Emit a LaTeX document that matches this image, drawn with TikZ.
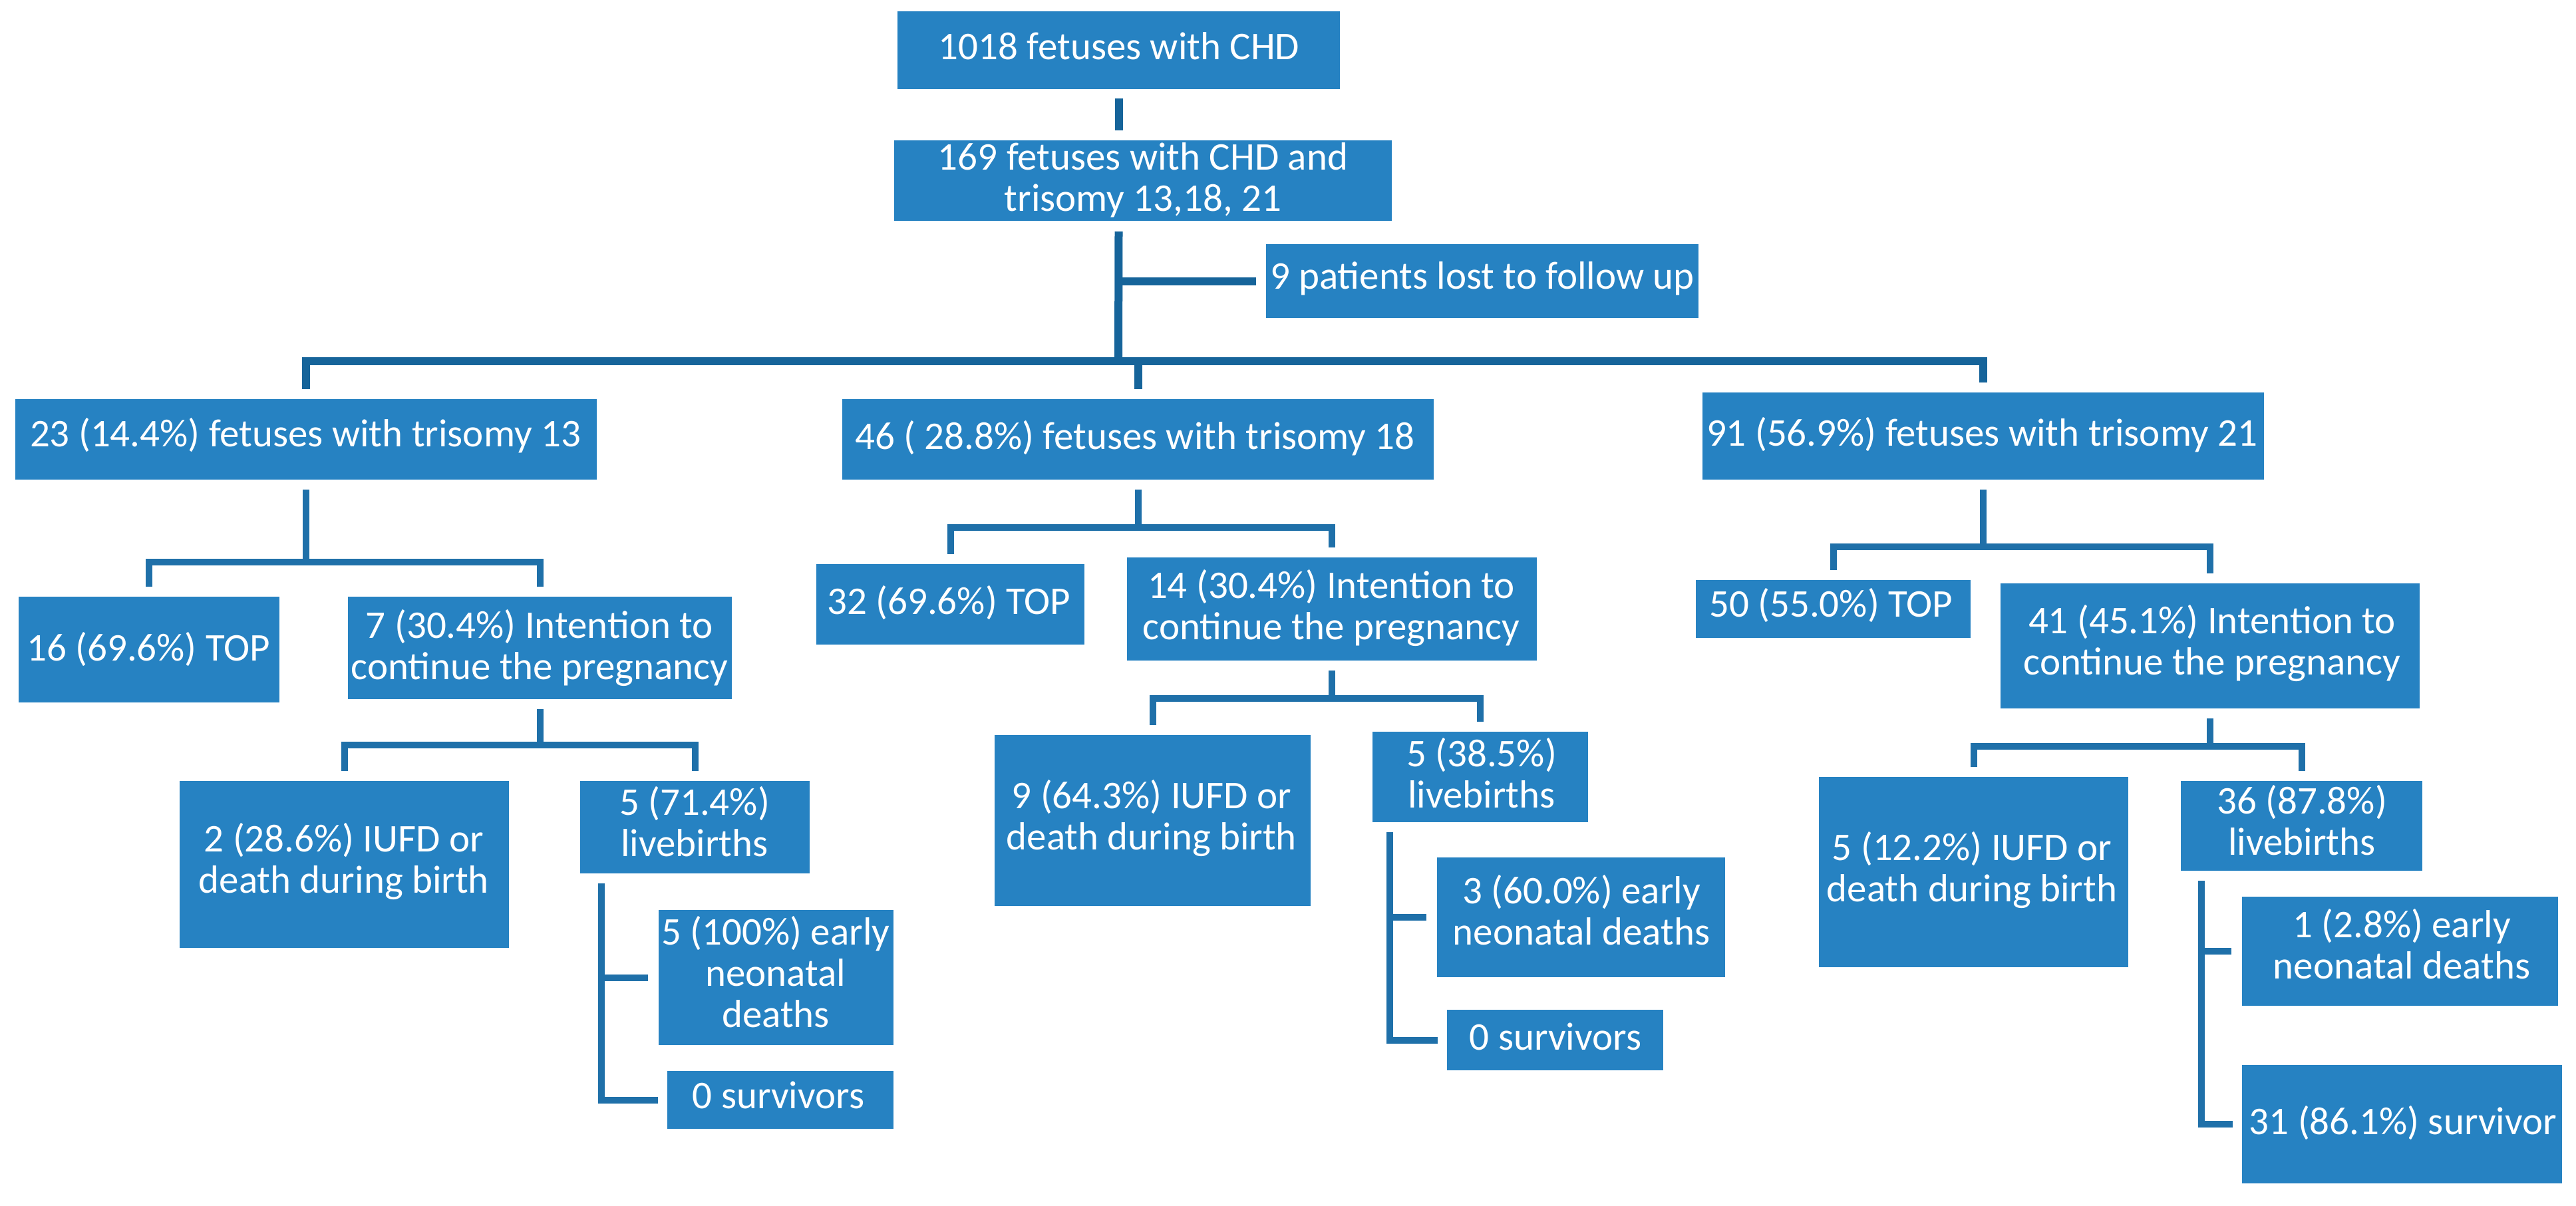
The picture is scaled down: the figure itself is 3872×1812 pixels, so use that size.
\documentclass[tikz,border=0pt]{standalone}
\usepackage{fontspec}
\setmainfont{Carlito}
\usetikzlibrary{fit}
\definecolor{boxblue}{RGB}{38,130,194}
\definecolor{lineA}{RGB}{22,100,154}
\definecolor{lineB}{RGB}{31,112,169}
\newcommand\bx[5]{\node[box, fit={(#2,#3) (#4,#5)}] (#1) {};}
% #3 = baseline of the last text line
\newcommand\tx[4]{\node[txt] (#1) at (#2,#3) {#4};}
\newcommand\forktwo[5]{%
  \draw[#5] ([yshift=-7.5pt]#1.south) -- (#1.south |- 0,#4);
  \draw[#5] ([yshift=7.5pt]#2.north) -- (#2.north |- 0,#4) -- (#3.north |- 0,#4) -- ([yshift=7.5pt]#3.north);}
\newcommand\rake[4]{%
  \draw[c2] ([xshift=#4,yshift=-7.5pt]#1.south west) -- ([xshift=#4]#1.south west |- #3.west) -- ([xshift=-7pt]#3.west);
  \draw[c2] ([xshift=#4]#1.south west |- #2.west) -- ([xshift=-8pt]#2.west);}
\begin{document}
\begin{tikzpicture}[x=0.5pt,y=-0.5pt,
  box/.style={fill=boxblue, inner sep=0pt, outer sep=0pt},
  txt/.style={text=white, font=\fontsize{29.5pt}{31pt}\selectfont, align=center, anchor=base, inner sep=0pt},
  c1/.style={draw=lineA, line width=6pt},
  c2/.style={draw=lineB, line width=5pt},
]
\fill[white] (0,0) rectangle (3872,1812);
\useasboundingbox (0,0) rectangle (3872,1812);

% boxes
\bx{b1}{1349}{17}{2014}{134}
\bx{b2}{1344}{211}{2092}{332}
\bx{lost}{1903}{367}{2553}{478}
\bx{t13}{23}{600}{897}{721}
\bx{t18}{1266}{600}{2155}{721}
\bx{t21}{2559}{590}{3403}{721}
\bx{top16}{28}{897}{420}{1056}
\bx{int7}{523}{897}{1100}{1051}
\bx{top32}{1227}{848}{1630}{969}
\bx{int14}{1694}{838}{2310}{993}
\bx{top50}{2549}{872}{2962}{959}
\bx{int41}{3007}{877}{3637}{1065}
\bx{iufd2}{270}{1174}{765}{1425}
\bx{live5}{872}{1174}{1217}{1313}
\bx{end5}{990}{1368}{1343}{1571}
\bx{surv0a}{1003}{1610}{1343}{1697}
\bx{iufd9}{1495}{1105}{1970}{1362}
\bx{live5b}{2063}{1100}{2387}{1236}
\bx{end3}{2160}{1289}{2593}{1469}
\bx{surv0b}{2175}{1518}{2500}{1609}
\bx{iufd5}{2734}{1168}{3199}{1454}
\bx{live36}{3278}{1174}{3641}{1309}
\bx{end1}{3370}{1348}{3845}{1512}
\bx{surv31}{3370}{1601}{3851}{1779}

% texts
\tx{tb1}{1682}{89}{1018 fetuses with CHD}
\tx{tb2}{1718}{317}{169 fetuses with CHD and\\trisomy 13,18, 21}
\tx{tlost}{2228}{434}{9 patients lost to follow up}
\tx{tt13}{459}{671}{23 (14.4\%) fetuses with trisomy 13}
\tx{tt18}{1706}{675}{46 ( 28.8\%) fetuses with trisomy 18}
\tx{tt21}{2979}{670}{91 (56.9\%) fetuses with trisomy 21}
\tx{ttop16}{223}{993}{16 (69.6\%) TOP}
\tx{tint7}{811}{1021}{7 (30.4\%) Intention to\\continue the pregnancy}
\tx{ttop32}{1426}{923}{32 (69.6\%) TOP}
\tx{tint14}{2001}{961}{14 (30.4\%) Intention to\\continue the pregnancy}
\tx{ttop50}{2752}{927}{50 (55.0\%) TOP}
\tx{tint41}{3325}{1014}{41 (45.1\%) Intention to\\continue the pregnancy}
\tx{tiufd2}{517}{1342}{2 (28.6\%) IUFD or\\death during birth}
\tx{tlive5}{1044}{1287}{5 (71.4\%)\\livebirths}
\tx{tend5}{1166}{1544}{5 (100\%) early\\neonatal\\deaths}
\tx{tsurv0a}{1170}{1666}{0 survivors}
\tx{tiufd9}{1731}{1277}{9 (64.3\%) IUFD or\\death during birth}
\tx{tlive5b}{2227}{1214}{5 (38.5\%)\\livebirths}
\tx{tend3}{2377}{1420}{3 (60.0\%) early\\neonatal deaths}
\tx{tsurv0b}{2338}{1578}{0 survivors}
\tx{tiufd5}{2964}{1355}{5 (12.2\%) IUFD or\\death during birth}
\tx{tlive36}{3460}{1285}{36 (87.8\%)\\livebirths}
\tx{tend1}{3610}{1471}{1 (2.8\%) early\\neonatal deaths}
\tx{tsurv31}{3612}{1705}{31 (86.1\%) survivor}

% top connectors
\coordinate (bar) at (1681,543);
\draw[c1] ([yshift=-7pt]b1.south) -- ([yshift=7.5pt]b1.south |- b2.north);
\draw[c1] ([yshift=-8pt]b1.south |- b2.south) -- (bar);
\draw[c1] (bar |- lost.west) -- ([xshift=-7.5pt]lost.west);
\draw[c1] ([yshift=7.5pt]t13.north) -- (t13.north |- bar) -- (t21.north |- bar) -- ([yshift=7.5pt]t21.north);
\draw[c1] (t18.north |- bar) -- ([yshift=7.5pt]t18.north);

% level 2
\forktwo{t13}{top16}{int7}{845}{c2}
\forktwo{t18}{top32}{int14}{793}{c2}
\forktwo{t21}{top50}{int41}{822}{c2}

% level 3
\forktwo{int7}{iufd2}{live5}{1120}{c2}
\forktwo{int14}{iufd9}{live5b}{1050}{c2}
\forktwo{int41}{iufd5}{live36}{1122}{c2}

% level 4
\rake{live5}{end5}{surv0a}{16pt}
\rake{live5b}{end3}{surv0b}{13pt}
\rake{live36}{end1}{surv31}{15.5pt}
\end{tikzpicture}
\end{document}
